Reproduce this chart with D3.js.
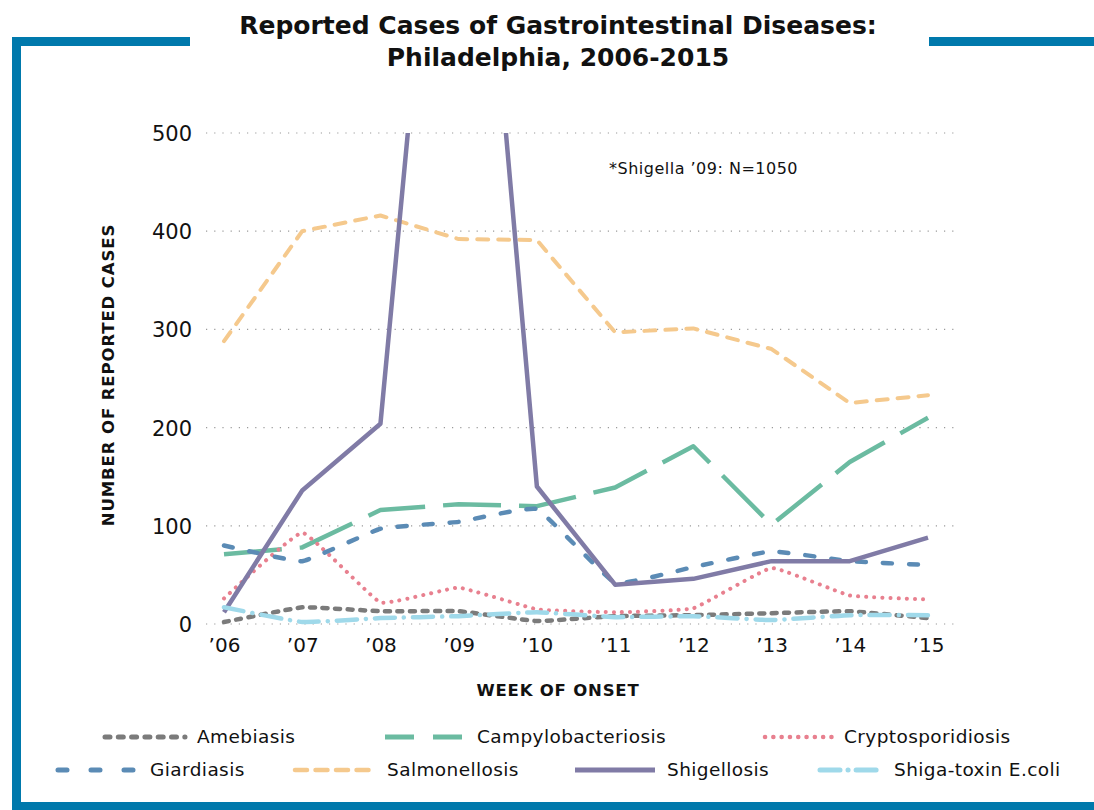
<!DOCTYPE html>
<html>
<head>
<meta charset="utf-8">
<script src="https://cdn.jsdelivr.net/npm/d3@7"></script>
<style>
  html, body { margin: 0; padding: 0; background: #fff; }
  svg { display: block; font-family: "DejaVu Sans", sans-serif; }
</style>
</head>
<body>
<svg id="chart" width="1094" height="810"></svg>
<script>
// Reported GI disease cases, Philadelphia 2006-2015
const years = [2006, 2007, 2008, 2009, 2010, 2011, 2012, 2013, 2014, 2015];
const yearLabels = ['’06', '’07', '’08', '’09', '’10', '’11', '’12', '’13', '’14', '’15'];
const yTicks = [0, 100, 200, 300, 400, 500];

const amebiasis = [2, 17, 13, 13, 3, 8, 9, 11, 13, 6];
const campylobacteriosis = [71, 78, 116, 122, 120, 139, 181, 101, 165, 210];
const cryptosporidiosis = [26, 93, 22, 37, 15, 12, 16, 57, 29, 25];
const giardiasis = [80, 64, 97, 104, 117, 42, 58, 74, 64, 60];
const salmonellosis = [288, 400, 416, 392, 391, 297, 301, 280, 225, 233];
const shigellosis = [12, 136, 204, 1050, 140, 40, 46, 64, 64, 88];
const shigaToxin = [17, 2, 6, 8, 12, 7, 8, 4, 9, 9];

const soft = d3.curveCardinal.tension(0.7);
const series = [
  { name: 'Amebiasis', values: amebiasis, color: '#7b7b7b', width: 4.5, dash: '5,7.5', legendDash: '5,8.3', cap: 'round', curve: soft },
  { name: 'Campylobacteriosis', values: campylobacteriosis, color: '#6bbba1', width: 4.5, dash: '58,18', legendDash: '29,19', cap: 'butt', curve: d3.curveLinear },
  { name: 'Cryptosporidiosis', values: cryptosporidiosis, color: '#e8808f', width: 4, dash: '0.1,8', legendDash: '0.1,8.2', cap: 'round', curve: soft },
  { name: 'Giardiasis', values: giardiasis, color: '#5b8bb5', width: 4.5, dash: '9,17', legendDash: '9,24', cap: 'round', curve: soft },
  { name: 'Salmonellosis', values: salmonellosis, color: '#f5c98d', width: 4, dash: '11,10', legendDash: '12,8.5', cap: 'round', curve: d3.curveLinear },
  { name: 'Shigellosis', values: shigellosis, color: '#807ba6', width: 4.5, dash: null, legendDash: null, cap: 'butt', curve: d3.curveLinear },
  { name: 'Shiga-toxin E.coli', values: shigaToxin, color: '#9fd9ea', width: 4.5, dash: '20,9,0.1,9', legendDash: '20,8,0.1,8', cap: 'round', curve: soft },
];

// legend placement: [swatch x, row y, swatch length]
const legendPos = [
  [105, 737, 80], [385, 737, 80], [765, 737, 67],
  [58, 770, 80], [295, 770, 80], [575, 770, 80], [820, 770, 62],
];

const svg = d3.select('#chart');
const blue = '#0079ac';

// frame
svg.append('rect').attr('x', 12).attr('y', 37).attr('width', 9).attr('height', 773).attr('fill', blue);
svg.append('rect').attr('x', 12).attr('y', 37).attr('width', 178).attr('height', 9).attr('fill', blue);
svg.append('rect').attr('x', 929).attr('y', 37).attr('width', 165).attr('height', 9).attr('fill', blue);
svg.append('rect').attr('x', 12).attr('y', 802).attr('width', 1082).attr('height', 8).attr('fill', blue);

// title
svg.append('text').attr('x', 558).attr('y', 34).attr('text-anchor', 'middle')
  .attr('font-size', 25).attr('font-weight', 700).attr('fill', '#111')
  .text('Reported Cases of Gastrointestinal Diseases:');
svg.append('text').attr('x', 558).attr('y', 66).attr('text-anchor', 'middle')
  .attr('font-size', 25).attr('font-weight', 700).attr('fill', '#111')
  .text('Philadelphia, 2006-2015');

const x = d3.scalePoint().domain(years).range([224, 928]);
const y = d3.scaleLinear().domain([0, 500]).range([624, 133]);

// gridlines
svg.append('g').selectAll('line').data(yTicks).join('line')
  .attr('x1', 206).attr('x2', 960)
  .attr('y1', d => y(d)).attr('y2', d => y(d))
  .attr('stroke', '#9a9a9a').attr('stroke-width', 1.2)
  .attr('stroke-dasharray', '1.2,7');

// y axis
const yAxis = svg.append('g').attr('transform', 'translate(192,0)')
  .call(d3.axisLeft(y).tickValues(yTicks).tickSize(0).tickPadding(0));
yAxis.select('.domain').remove();
yAxis.selectAll('text').attr('font-size', 21).attr('font-family', '"DejaVu Sans", sans-serif')
  .attr('fill', '#111').attr('dy', '0.36em');

// x axis
const xAxis = svg.append('g').attr('transform', 'translate(0,636)')
  .call(d3.axisBottom(x).tickSize(0).tickPadding(0).tickFormat((d, i) => yearLabels[i]));
xAxis.select('.domain').remove();
xAxis.selectAll('text').attr('font-size', 20).attr('font-family', '"DejaVu Sans", sans-serif')
  .attr('fill', '#111').attr('dy', '0.8em');

// axis titles
svg.append('text').attr('transform', 'translate(114,375) rotate(-90)')
  .attr('text-anchor', 'middle').attr('font-size', 16.5).attr('font-weight', 700).attr('fill', '#111')
  .attr('letter-spacing', 0.9)
  .text('NUMBER OF REPORTED CASES');
svg.append('text').attr('x', 558).attr('y', 696).attr('text-anchor', 'middle')
  .attr('font-size', 16.5).attr('font-weight', 700).attr('fill', '#111')
  .attr('letter-spacing', 0.8)
  .text('WEEK OF ONSET');

// annotation
svg.append('text').attr('x', 609).attr('y', 174).attr('font-size', 16).attr('fill', '#111')
  .attr('letter-spacing', 0.5)
  .text('*Shigella ’09: N=1050');

// clip the plot at 500 so the Shigella 2009 spike is cut off
svg.append('clipPath').attr('id', 'plot-clip')
  .append('rect').attr('x', 190).attr('y', y(500)).attr('width', 800).attr('height', 520);

const plot = svg.append('g').attr('clip-path', 'url(#plot-clip)');
series.forEach(s => {
  const line = d3.line().x((d, i) => x(years[i])).y(d => y(d)).curve(s.curve);
  plot.append('path').datum(s.values)
    .attr('d', line)
    .attr('fill', 'none')
    .attr('stroke', s.color)
    .attr('stroke-width', s.width)
    .attr('stroke-linecap', s.cap)
    .attr('stroke-linejoin', 'round')
    .attr('stroke-dasharray', s.dash);
});

// legend
const legend = svg.append('g');
series.forEach((s, i) => {
  const [lx, ly, len] = legendPos[i];
  legend.append('line')
    .attr('x1', lx).attr('x2', lx + len).attr('y1', ly).attr('y2', ly)
    .attr('stroke', s.color).attr('stroke-width', s.width + 0.5)
    .attr('stroke-linecap', s.cap)
    .attr('stroke-dasharray', s.legendDash);
  legend.append('text')
    .attr('x', lx + len + 12).attr('y', ly).attr('dy', '0.35em')
    .attr('font-size', 18.5).attr('letter-spacing', 0.4).attr('fill', '#111')
    .text(s.name);
});
</script>
</body>
</html>
